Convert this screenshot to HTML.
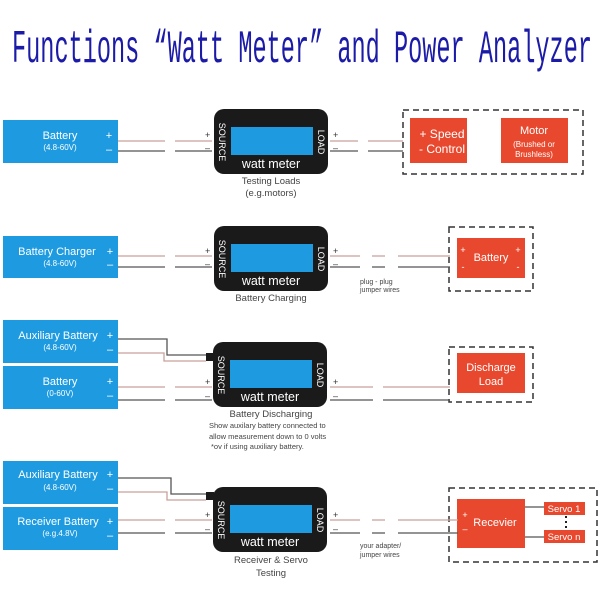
<!DOCTYPE html>
<html><head><meta charset="utf-8"><style>
html,body{margin:0;padding:0;background:#fff;}
svg{display:block;font-family:"Liberation Sans",sans-serif;}
</style></head><body>
<svg width="600" height="600" viewBox="0 0 600 600" xmlns="http://www.w3.org/2000/svg">
<defs>
<g id="meter">
  <rect x="0" y="0" width="114" height="65" rx="10" fill="#1a1a1a"/>
  <rect x="17" y="18" width="82" height="28" fill="#1e9be0"/>
  <text x="57" y="59" font-size="12.5" fill="#fff" text-anchor="middle">watt meter</text>
  <text transform="translate(5,33) rotate(90)" font-size="9" fill="#fff" text-anchor="middle">SOURCE</text>
  <text transform="translate(104,33) rotate(90)" font-size="9" fill="#fff" text-anchor="middle">LOAD</text>
</g>
</defs>
<text x="12" y="62" font-family="Liberation Mono,monospace" font-size="46" fill="#1b1ba8" textLength="580" lengthAdjust="spacingAndGlyphs">Functions “Watt Meter” and Power Analyzer</text>

<g font-size="11" fill="#fff" text-anchor="middle">
<!-- Row 1 -->
<rect x="3" y="120" width="115" height="43" fill="#1e9be0"/>
<text x="60" y="139">Battery</text><text x="60" y="150" font-size="8">(4.8-60V)</text>
<text x="109" y="139">+</text><text x="109" y="153">–</text>
<use href="#meter" x="214" y="109"/>
<rect x="403" y="110" width="180" height="64" fill="none" stroke="#333" stroke-width="1.5" stroke-dasharray="6,4"/>
<rect x="410" y="118" width="57" height="45" fill="#e8492e"/>
<text x="442" y="138" font-size="12">+ Speed</text><text x="442" y="153" font-size="12">- Control</text>
<rect x="501" y="118" width="67" height="45" fill="#e8492e"/>
<text x="534" y="134">Motor</text><text x="534" y="147" font-size="8">(Brushed or</text><text x="534" y="157" font-size="8">Brushless)</text>
</g>
<g stroke-width="1.3" fill="none">
<path d="M118 141H165M175 141H212M330 141H358M368 141H403" stroke="#c9a09a"/>
<path d="M118 151H165M175 151H212M330 151H358M368 151H403" stroke="#555"/>
</g>
<g font-size="9" fill="#333">
<text x="205" y="138">+</text><text x="205" y="151">–</text><text x="333" y="138">+</text><text x="333" y="151">–</text>
</g>
<text x="271" y="184" font-size="9.5" fill="#444" text-anchor="middle">Testing Loads</text>
<text x="271" y="196" font-size="9.5" fill="#444" text-anchor="middle">(e.g.motors)</text>

<!-- Row 2 -->
<g font-size="11" fill="#fff" text-anchor="middle">
<rect x="3" y="236" width="115" height="42" fill="#1e9be0"/>
<text x="57" y="255">Battery Charger</text><text x="60" y="266" font-size="8">(4.8-60V)</text>
<text x="110" y="255">+</text><text x="110" y="268">–</text>
<use href="#meter" x="214" y="226"/>
<rect x="449" y="227" width="84" height="64" fill="none" stroke="#333" stroke-width="1.5" stroke-dasharray="6,4"/>
<rect x="457" y="238" width="68" height="40" fill="#e8492e"/>
<text x="491" y="261">Battery</text>
<text x="463" y="253" font-size="9">+</text><text x="518" y="253" font-size="9">+</text>
<text x="463" y="270" font-size="9">-</text><text x="518" y="270" font-size="9">-</text>
</g>
<g stroke-width="1.3" fill="none">
<path d="M118 256H165M175 256H212M330 256H360M372 256H385M398 256H450" stroke="#c9a09a"/>
<path d="M118 267H165M175 267H212M330 267H360M372 267H385M398 267H450" stroke="#555"/>
</g>
<g font-size="9" fill="#333">
<text x="205" y="254">+</text><text x="205" y="267">–</text><text x="333" y="254">+</text><text x="333" y="267">–</text>
</g>
<text x="271" y="301" font-size="9.5" fill="#444" text-anchor="middle">Battery Charging</text>
<text x="360" y="284" font-size="7" fill="#444">plug - plug</text>
<text x="360" y="292" font-size="7" fill="#444">jumper wires</text>

<!-- Row 3 -->
<g font-size="11" fill="#fff" text-anchor="middle">
<rect x="3" y="320" width="115" height="43" fill="#1e9be0"/>
<text x="58" y="339">Auxiliary Battery</text><text x="60" y="350" font-size="8">(4.8-60V)</text>
<text x="110" y="339">+</text><text x="110" y="353">–</text>
<rect x="3" y="366" width="115" height="43" fill="#1e9be0"/>
<text x="60" y="385">Battery</text><text x="60" y="396" font-size="8">(0-60V)</text>
<text x="110" y="385">+</text><text x="110" y="399">–</text>
<use href="#meter" x="213" y="342"/>
<rect x="449" y="347" width="84" height="55" fill="none" stroke="#333" stroke-width="1.5" stroke-dasharray="6,4"/>
<rect x="457" y="353" width="68" height="40" fill="#e8492e"/>
<text x="491" y="371">Discharge</text><text x="491" y="385">Load</text>
</g>
<rect x="206" y="353" width="8" height="8" fill="#1a1a1a"/>
<g stroke-width="1.3" fill="none">
<path d="M118 339H167V355H206" stroke="#555"/>
<path d="M118 353H164V361H206" stroke="#c9a09a"/>
<path d="M118 387H165M175 387H212M330 387H373M383 387H450" stroke="#c9a09a"/>
<path d="M118 400H165M175 400H212M330 400H373M383 400H450" stroke="#555"/>
</g>
<g font-size="9" fill="#333">
<text x="205" y="385">+</text><text x="205" y="399">–</text><text x="333" y="385">+</text><text x="333" y="399">–</text>
</g>
<text x="271" y="417" font-size="9.5" fill="#444" text-anchor="middle">Battery Discharging</text>
<g font-size="7.5" fill="#444"><text x="209" y="428">Show auxilary battery connected to</text>
<text x="209" y="439">allow measurement down to 0 volts</text>
<text x="211" y="449">*ov if using auxiliary battery.</text></g>

<!-- Row 4 -->
<g font-size="11" fill="#fff" text-anchor="middle">
<rect x="3" y="461" width="115" height="43" fill="#1e9be0"/>
<text x="58" y="478">Auxiliary Battery</text><text x="60" y="490" font-size="8">(4.8-60V)</text>
<text x="110" y="478">+</text><text x="110" y="492">–</text>
<rect x="3" y="507" width="115" height="43" fill="#1e9be0"/>
<text x="58" y="525">Receiver Battery</text><text x="60" y="536" font-size="8">(e.g.4.8V)</text>
<text x="110" y="525">+</text><text x="110" y="539">–</text>
<use href="#meter" x="213" y="487"/>
<rect x="449" y="488" width="148" height="74" fill="none" stroke="#333" stroke-width="1.5" stroke-dasharray="6,4"/>
<rect x="457" y="499" width="68" height="49" fill="#e8492e"/>
<text x="495" y="526">Recevier</text>
<text x="465" y="518" font-size="9">+</text><text x="465" y="532" font-size="9">–</text>
<rect x="544" y="502" width="41" height="13" fill="#e8492e"/>
<text x="564" y="512" font-size="9.5">Servo 1</text>
<rect x="544" y="530" width="41" height="13" fill="#e8492e"/>
<text x="564" y="540" font-size="9.5">Servo n</text>
</g>
<g stroke-width="1.3" fill="none">
<path d="M118 478H171V494H206" stroke="#555"/>
<path d="M118 492H167V500H206" stroke="#c9a09a"/>
<path d="M118 520H165M175 520H212M330 520H360M372 520H385M398 520H458" stroke="#c9a09a"/>
<path d="M118 533H165M175 533H212M330 533H360M372 533H385M398 533H458" stroke="#555"/>
<path d="M525 507H544M525 537H544" stroke="#555"/>
<path d="M566 516V530" stroke="#222" stroke-width="2" stroke-dasharray="2,3"/>
</g>
<rect x="206" y="492" width="8" height="8" fill="#1a1a1a"/>
<g font-size="9" fill="#333">
<text x="205" y="518">+</text><text x="205" y="532">–</text><text x="333" y="518">+</text><text x="333" y="532">–</text>
</g>
<text x="271" y="563" font-size="9.5" fill="#444" text-anchor="middle">Receiver &amp; Servo</text>
<text x="271" y="576" font-size="9.5" fill="#444" text-anchor="middle">Testing</text>
<text x="360" y="548" font-size="7" fill="#444">your adapter/</text>
<text x="360" y="557" font-size="7" fill="#444">jumper wires</text>
</svg>
</body></html>
